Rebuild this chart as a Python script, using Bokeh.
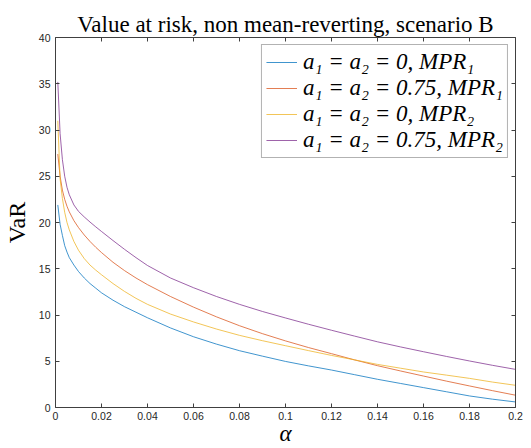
from bokeh.plotting import figure
from bokeh.models import (Range1d, LinearAxis, FixedTicker, Legend, LegendItem,
                          NumeralTickFormatter)
from bokeh.embed import file_html
from bokeh.resources import INLINE

# ---- data -------------------------------------------------------------
alpha = [0.001, 0.002, 0.003, 0.004, 0.005, 0.006, 0.008, 0.01, 0.0125, 0.015,
         0.0175, 0.02, 0.025, 0.03, 0.035, 0.04, 0.05, 0.06, 0.07, 0.08, 0.09,
         0.1, 0.11, 0.12, 0.13, 0.14, 0.15, 0.16, 0.17, 0.18, 0.19, 0.2]

var_a0_mpr1 = [21.9, 19.8, 18.6, 17.5, 16.8, 16.2, 15.4, 14.7, 14.0, 13.4,
               12.9, 12.4, 11.6, 10.9, 10.3, 9.7, 8.6, 7.65, 6.85, 6.14, 5.55,
               4.98, 4.5, 4.05, 3.55, 3.05, 2.6, 2.15, 1.7, 1.25, 0.9, 0.6]

var_a075_mpr1 = [27.4, 25.0, 23.5, 22.5, 21.75, 21.15, 20.2, 19.45, 18.65, 17.95,
                 17.32, 16.75, 15.7, 14.8, 14.0, 13.28, 12.0, 10.85, 9.8, 8.84, 7.98,
                 7.2, 6.48, 5.82, 5.15, 4.52, 3.95, 3.4, 2.85, 2.33, 1.82, 1.33]

var_a0_mpr2 = [31.0, 24.7, 22.6, 21.1, 20.0, 19.2, 17.95, 17.0, 16.1, 15.4,
               14.85, 14.35, 13.4, 12.55, 11.8, 11.15, 10.1, 9.25, 8.48, 7.8, 7.22,
               6.68, 6.15, 5.63, 5.15, 4.66, 4.25, 3.84, 3.5, 3.15, 2.75, 2.4]

var_a075_mpr2 = [35.2, 29.6, 26.8, 25.0, 23.8, 23.0, 21.9, 21.2, 20.6, 20.05,
                 19.53, 19.03, 18.05, 17.1, 16.2, 15.35, 14.0, 12.95, 12.0, 11.15, 10.38,
                 9.68, 9.0, 8.35, 7.72, 7.1, 6.55, 6.03, 5.52, 5.03, 4.56, 4.12]

series_labels = ["a₁ = a₂ = 0, MPR₁", "a₁ = a₂ = 0.75, MPR₁",
                 "a₁ = a₂ = 0, MPR₂", "a₁ = a₂ = 0.75, MPR₂"]
series_colors = ["#0072BD", "#D95319", "#EDB120", "#7E2F8E"]

x_ticks = [0, 0.02, 0.04, 0.06, 0.08, 0.1, 0.12, 0.14, 0.16, 0.18, 0.2]
y_ticks = [0, 5, 10, 15, 20, 25, 30, 35, 40]

title_text = "Value at risk, non mean-reverting, scenario B"
x_label = "α"
y_label = "VaR"

# ---- figure -----------------------------------------------------------
AX = "#404040"
p = figure(width=531, height=448, output_backend="svg", toolbar_location=None,
           x_range=Range1d(0, 0.2), y_range=Range1d(0, 40),
           min_border_left=54, min_border_right=16,
           min_border_top=37, min_border_bottom=41)
p.background_fill_color = "white"
p.border_fill_color = "white"
p.outline_line_color = None
p.xgrid.visible = False
p.ygrid.visible = False

p.title.text = title_text
p.title.align = "center"
p.title.text_font = "Liberation Serif"
p.title.text_font_size = "23px"
p.title.text_font_style = "normal"
p.title.text_color = "black"
p.title.standoff = 2

xb = p.below[0]
yl = p.left[0]
for ax, ticks in ((xb, x_ticks), (yl, y_ticks)):
    ax.ticker = FixedTicker(ticks=ticks)
    ax.major_tick_in = 4
    ax.major_tick_out = 0
    ax.minor_tick_line_color = None
    ax.axis_line_color = AX
    ax.major_tick_line_color = AX
    ax.major_label_text_font = "Liberation Sans"
    ax.major_label_text_font_size = "10.5px"
    ax.major_label_text_color = "#262626"
    ax.major_label_standoff = 5
xb.formatter = NumeralTickFormatter(format="0.[00]")
xb.major_label_standoff = 4

xb.axis_label = x_label
xb.axis_label_text_font = "Liberation Serif"
xb.axis_label_text_font_style = "italic"
xb.axis_label_text_font_size = "23px"
xb.axis_label_text_color = "black"
xb.axis_label_standoff = -2

yl.axis_label = y_label
yl.axis_label_text_font = "Liberation Serif"
yl.axis_label_text_font_style = "normal"
yl.axis_label_text_font_size = "24px"
yl.axis_label_text_color = "black"
yl.axis_label_standoff = 6

top_ax = LinearAxis(ticker=FixedTicker(ticks=x_ticks))
right_ax = LinearAxis(ticker=FixedTicker(ticks=y_ticks))
for ax in (top_ax, right_ax):
    ax.major_tick_in = 4
    ax.major_tick_out = 0
    ax.minor_tick_line_color = None
    ax.axis_line_color = AX
    ax.major_tick_line_color = AX
    ax.major_label_text_font_size = "1px"
    ax.major_label_text_color = None
    ax.major_label_standoff = 0
p.add_layout(top_ax, "above")
p.add_layout(right_ax, "right")

all_series = [var_a0_mpr1, var_a075_mpr1, var_a0_mpr2, var_a075_mpr2]
items = []
for ys, col, lab in zip(all_series, series_colors, series_labels):
    r = p.line(alpha, ys, line_color=col, line_width=1, line_alpha=0.75)
    items.append(LegendItem(label=lab, renderers=[r]))

legend = Legend(items=items, location="top_right")
legend.label_text_font = "Liberation Serif"
legend.label_text_font_style = "italic"
legend.label_text_font_size = "23px"
legend.label_text_color = "black"
legend.glyph_width = 31
legend.glyph_height = 20
legend.label_standoff = 6
legend.padding = 4
legend.spacing = 0
legend.margin = 7
legend.border_line_color = "#666666"
legend.border_line_width = 1
legend.background_fill_color = "white"
legend.background_fill_alpha = 1
p.add_layout(legend)

open("out.html", "w").write(file_html(p, INLINE))
